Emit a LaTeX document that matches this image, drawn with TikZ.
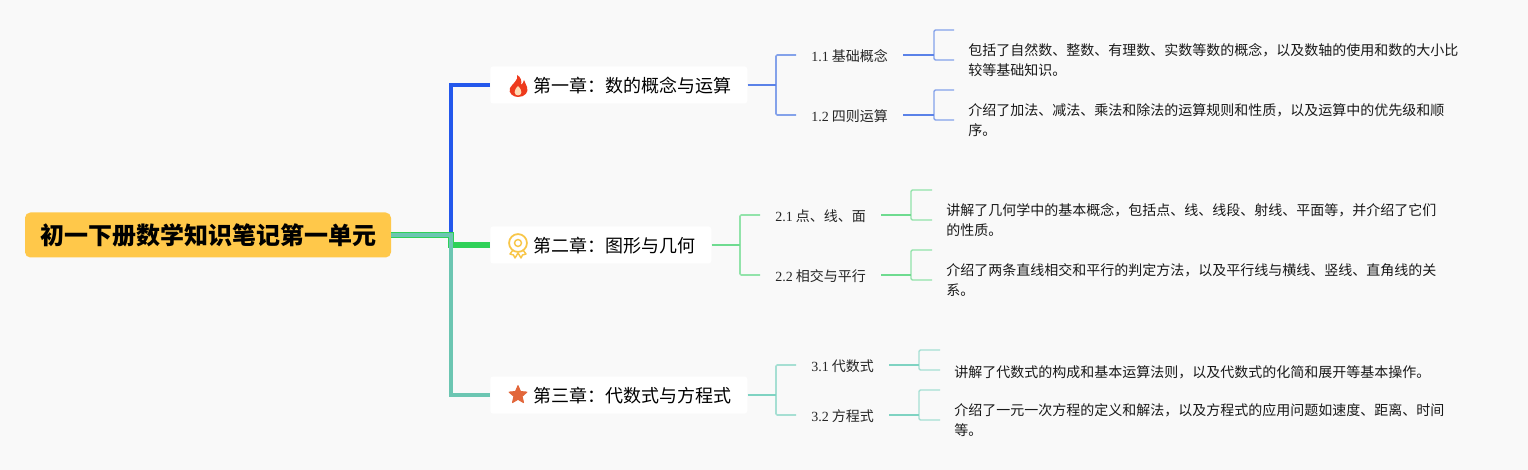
\documentclass[tikz,border=0pt]{standalone}
\usepackage{fontspec}
\usepackage{xcolor}
\setmainfont{Noto Sans CJK SC}
\newfontfamily\latinfont{Liberation Serif}
\usetikzlibrary{shapes.geometric,positioning,calc}
\definecolor{pagebg}{HTML}{F9F9F9}
\definecolor{rootfill}{HTML}{FFC84A}
\definecolor{blueA}{HTML}{2458EC}
\definecolor{blueB}{HTML}{5B82E8}
\definecolor{blueC}{HTML}{84A2EA}
\definecolor{greenA}{HTML}{2FD158}
\definecolor{greenB}{HTML}{6FDB90}
\definecolor{greenC}{HTML}{92E3AA}
\definecolor{tealA}{HTML}{6CC6B2}
\definecolor{tealB}{HTML}{7FD3C2}
\definecolor{tealC}{HTML}{A6DFD3}
\definecolor{flamered}{HTML}{EE3A1C}
\definecolor{medalgold}{HTML}{F8C648}
\definecolor{starfill}{HTML}{E2663A}
\begin{document}
\begin{tikzpicture}[x=0.75pt, y=-0.75pt,
        root/.style={rectangle, fill=rootfill, rounded corners=4pt, minimum width=274.5pt, minimum height=33.75pt, inner sep=0pt, font=\fontsize{18}{22}\selectfont\bfseries, align=center},
        chapter/.style={rectangle, fill=white, rounded corners=2pt, minimum height=27.75pt, inner xsep=12pt, inner ysep=0pt, text height=13pt, text depth=1.5pt, font=\fontsize{13.5}{18}\selectfont, anchor=west},
        subtopic/.style={rectangle, minimum height=18pt, inner xsep=11.25pt, inner ysep=0pt, text height=10.7pt, text depth=1.3pt, font=\fontsize{10.5}{14}\selectfont, anchor=west, text=black!85},
        desc/.style={rectangle, inner xsep=10.5pt, inner ysep=0pt, font=\fontsize{10.5}{15}\selectfont, align=left, anchor=west, text=black!90, execute at begin node={\rule{0pt}{12.24pt}}},
        trunk/.style={line width=2.6pt},
        branch/.style={line width=1.2pt, rounded corners=1pt},
        twig/.style={line width=1.1pt, rounded corners=1pt},
      ]
      \useasboundingbox (0,0) rectangle (1528,470);
      \fill [pagebg] (0,0) rectangle (1528,470);
      \node [root] (root) at (208,235) {初一下册数学知识笔记第一单元};
      \node [chapter] (ch1) at (490,85) {\hspace*{20.25pt}第一章：数的概念与运算};
      \node [chapter] (ch2) at (490,245) {\hspace*{20.25pt}第二章：图形与几何};
      \node [chapter] (ch3) at (490,395) {\hspace*{20.25pt}第三章：代数式与方程式};
      \node [subtopic] (sub11) at (796,55) {{\latinfont 1.1} 基础概念};
      \node [subtopic] (sub12) at (796,115) {{\latinfont 1.2} 四则运算};
      \node [subtopic] (sub21) at (760,215) {{\latinfont 2.1} 点、线、面};
      \node [subtopic] (sub22) at (760,275) {{\latinfont 2.2} 相交与平行};
      \node [subtopic] (sub31) at (796,365) {{\latinfont 3.1} 代数式};
      \node [subtopic] (sub32) at (796,415) {{\latinfont 3.2} 方程式};
      \node [desc] (desc11) at (954,60) {包括了自然数、整数、有理数、实数等数的概念，以及数轴的使用和数的大小比\\较等基础知识。};
      \node [desc] (desc12) at (954,120) {介绍了加法、减法、乘法和除法的运算规则和性质，以及运算中的优先级和顺\\序。};
      \node [desc] (desc21) at (932,220) {讲解了几何学中的基本概念，包括点、线、线段、射线、平面等，并介绍了它们\\的性质。};
      \node [desc] (desc22) at (932,280) {介绍了两条直线相交和平行的判定方法，以及平行线与横线、竖线、直角线的关\\系。};
      \node [desc] (desc31) at (940,370) {讲解了代数式的构成和基本运算法则，以及代数式的化简和展开等基本操作。};
      \node [desc] (desc32) at (940,420) {介绍了一元一次方程的定义和解法，以及方程式的应用问题如速度、距离、时间\\等。};
      \coordinate (stub11) at (954,30);
      \coordinate (stub12) at (954,90);
      \coordinate (stub21) at (932,190);
      \coordinate (stub22) at (932,250);
      \coordinate (stub31) at (940,350);
      \coordinate (stub32) at (940,390);
      \coordinate (turn) at (451,235);
      % main branches
      \draw [trunk, blueA] (root.east) -- (turn) |- (ch1.west);
      \draw [trunk, greenA, line width=4pt] (root.east) -- (turn) |- (ch2.west);
      \draw [trunk, tealA, line width=3pt] (root.east) -- (turn) |- (ch3.west);
      % first chapter
      \draw [branch, blueC] (sub11.west) -| (776,85) |- (sub12.west);
      \draw [branch, blueB] (ch1.east) -- (776,85);
      \draw [twig, blueC] (stub11) -| (934,55) |- (desc11.west);
      \draw [twig, blueB, line width=1.4pt] (sub11.east) -- (934,55);
      \draw [twig, blueC] (stub12) -| (934,115) |- (desc12.west);
      \draw [twig, blueB, line width=1.4pt] (sub12.east) -- (934,115);
      % second chapter
      \draw [branch, greenC] (sub21.west) -| (740,245) |- (sub22.west);
      \draw [branch, greenB] (ch2.east) -- (740,245);
      \draw [twig, greenC] (stub21) -| (911,215) |- (desc21.west);
      \draw [twig, greenB, line width=1.4pt] (sub21.east) -- (911,215);
      \draw [twig, greenC] (stub22) -| (911,275) |- (desc22.west);
      \draw [twig, greenB, line width=1.4pt] (sub22.east) -- (911,275);
      % third chapter
      \draw [branch, tealC] (sub31.west) -| (776,395) |- (sub32.west);
      \draw [branch, tealB] (ch3.east) -- (776,395);
      \draw [twig, tealC] (stub31) -| (919,365) |- (desc31.west);
      \draw [twig, tealB, line width=1.4pt] (sub31.east) -- (919,365);
      \draw [twig, tealC] (stub32) -| (919,415) |- (desc32.west);
      \draw [twig, tealB, line width=1.4pt] (sub32.east) -- (919,415);
      % icons
      \fill [flamered] (517,75) .. controls (519,80) and (512,84) .. (510,88) .. controls (508,93) and (513,97) .. (518,97) .. controls (525,97) and (529,92) .. (527,87) .. controls (526,84) and (525,83) .. (524,80) .. controls (523,82) and (523,84) .. (521,85) .. controls (522,81) and (521,77) .. (517,75) -- cycle;
      \fill [white!70!orange] (518,95.5) .. controls (514,95) and (513,91) .. (518,86) .. controls (523,91) and (522,95) .. (518,95.5) -- cycle;
      \draw [line width=1.1pt, draw=medalgold, line join=round] (513,250) -- (510,254) -- (513.5,255) -- (515,258) -- (518,253) -- (521,258) -- (522.5,255) -- (526,254) -- (523,250);
      \draw [line width=1.3pt, draw=medalgold, fill=white] (518,243) circle [radius=6.7pt];
      \draw [line width=1.1pt, draw=medalgold] (518,243) circle [radius=2.6pt];
      \node [star, star points=5, star point ratio=2.2, fill=starfill, draw=starfill, line width=0.8pt, line join=round, minimum size=14pt, inner sep=0pt] (starmark) at (518,395) {};
    \end{tikzpicture}
\end{document}
